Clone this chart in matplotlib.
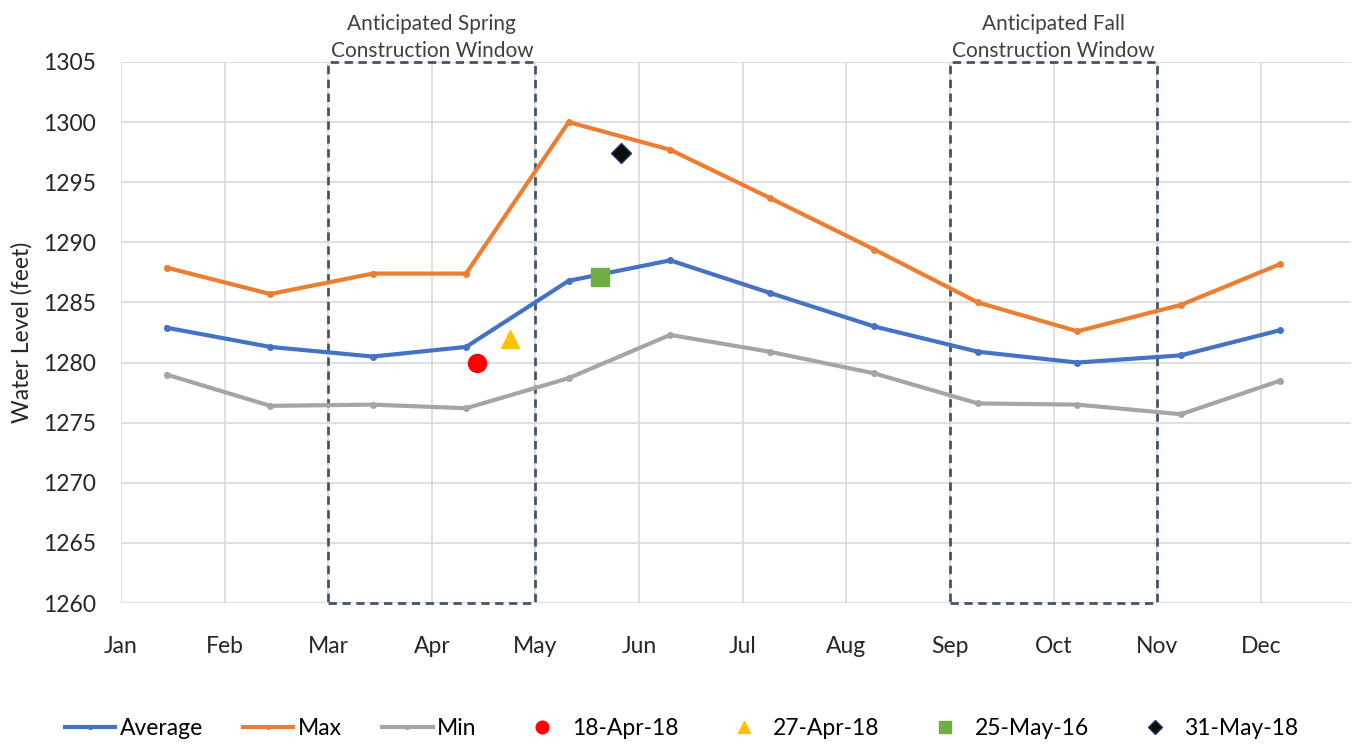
import matplotlib.pyplot as plt
from matplotlib.patches import Rectangle

plt.rcParams["font.family"] = ["Liberation Sans Narrow", "Lato", "DejaVu Sans"]

months = ["Jan", "Feb", "Mar", "Apr", "May", "Jun",
          "Jul", "Aug", "Sep", "Oct", "Nov", "Dec"]

# x positions of monthly points, in months from 1-Jan
pt_x = [0.44, 1.44, 2.43, 3.33, 4.32, 5.30, 6.26, 7.27, 8.27, 9.23, 10.23, 11.19]
average = [1282.9, 1281.3, 1280.5, 1281.3, 1286.8, 1288.5,
           1285.8, 1283.0, 1280.9, 1280.0, 1280.6, 1282.7]
maximum = [1287.9, 1285.7, 1287.4, 1287.4, 1300.0, 1297.7,
           1293.7, 1289.4, 1285.0, 1282.6, 1284.8, 1288.2]
minimum = [1279.0, 1276.4, 1276.5, 1276.2, 1278.7, 1282.3,
           1280.9, 1279.1, 1276.6, 1276.5, 1275.7, 1278.5]

obs_labels = ["18-Apr-18", "27-Apr-18", "25-May-16", "31-May-18"]
obs_x = [3.44, 3.75, 4.62, 4.83]
obs_y = [1280.0, 1282.0, 1287.1, 1297.4]

# construction windows (start month, end month)
windows = [(2, 4, "Anticipated Spring\nConstruction Window"),
           (8, 10, "Anticipated Fall\nConstruction Window")]

fig = plt.figure(figsize=(13.55, 7.45), dpi=100)
ax = fig.add_axes([0.0893, 0.1906, 0.9077, 0.7262])

ax.set_xlim(0, 11.87)
ax.set_ylim(1260, 1305)
ax.set_xticks(range(12))
ax.set_xticklabels(months)
ax.set_yticks(range(1260, 1306, 5))
ax.grid(True, color="#d9d9d9", lw=1.2)
ax.set_axisbelow(True)
for s in ax.spines.values():
    s.set_visible(False)
ax.tick_params(length=0, labelsize=16.5, colors="#262626")
ax.tick_params(axis="x", pad=24)
ax.tick_params(axis="y", pad=18)
ax.set_ylabel("Water Level (feet)", fontsize=16.5, color="#262626")
ax.yaxis.set_label_coords(-0.072, 0.5)

ax.plot(pt_x, average, color="#4472C4", lw=3, marker="o", ms=4, label="Average", zorder=3)
ax.plot(pt_x, maximum, color="#ED7D31", lw=3, marker="o", ms=4, label="Max", zorder=3)
ax.plot(pt_x, minimum, color="#A5A5A5", lw=3, marker="o", ms=4, label="Min", zorder=3)

styles = [("o", "#FF0000", 13), ("^", "#FFC000", 13), ("s", "#70AD47", 13), ("D", "#0D0D0D", 10)]
for lab, x, y, (m, c, s) in zip(obs_labels, obs_x, obs_y, styles):
    ax.plot([x], [y], ls="none", marker=m, color=c, ms=s, label=lab, zorder=4,
            mec="#1F3864" if m == "D" else c)

for x0, x1, text in windows:
    ax.add_patch(Rectangle((x0, 1260), x1 - x0, 45, fill=False, ls=(0, (3, 2)),
                           lw=2, ec="#44546A", zorder=2, clip_on=False))
    ax.text((x0 + x1) / 2, 1305.1, text, ha="center", va="bottom", fontsize=15,
            color="#404040", linespacing=1.45)

handles, labels = ax.get_legend_handles_labels()
leg = fig.legend(handles, labels, loc="center", bbox_to_anchor=(0.503, 0.022), ncol=7,
                 frameon=False, fontsize=16.5, handlelength=2.2, columnspacing=1.75,
                 handletextpad=0.2, markerscale=0.7)

fig.savefig("out.png", dpi=100)
